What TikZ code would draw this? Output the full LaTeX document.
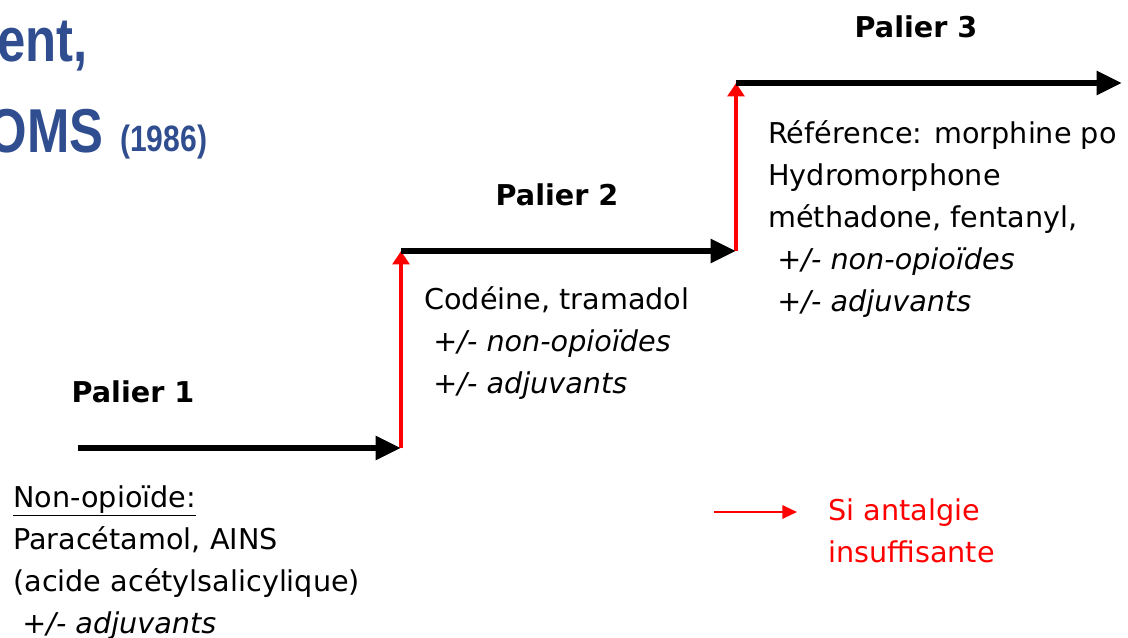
\documentclass[tikz,border=0pt]{standalone}
\usepackage{fontspec}
\usepackage{graphicx}
\setmainfont{DejaVu Sans}
\newfontfamily\titlefont{Liberation Sans}
\usetikzlibrary{arrows.meta}

\definecolor{omsblue}{RGB}{47,77,143}
\definecolor{stepred}{RGB}{255,0,0}

\tikzset{
  stepline/.style={line width=5pt, -{Triangle[length=19pt,width=17pt]}},
  uparrow/.style={stepred, line width=2.6pt, -{Triangle[length=10pt,width=12.5pt]}},
  legendarrow/.style={stepred, line width=1.5pt, -{Triangle[length=11pt,width=10pt]}},
  paliertext/.style={inner sep=0pt, anchor=base, font=\fontsize{21.5}{31.5}\selectfont\bfseries},
  drugtext/.style={inner sep=0pt, anchor=north west, align=left, font=\fontsize{21.5}{31.5}\selectfont},
  titletext/.style={inner sep=0pt, text=omsblue, font=\titlefont\bfseries}
}

\begin{document}
\begin{tikzpicture}[x=0.75pt, y=-0.75pt]
	\useasboundingbox (0,0) rectangle (1128,638);
	% title, cut by the left edge
	\node[titletext, anchor=base east] (title1) at (88,62) {\fontsize{46.5}{50}\selectfont\scalebox{0.82}[1]{ent,}};
	\node[titletext, anchor=base east] (title2) at (104,153) {\fontsize{46.5}{50}\selectfont\scalebox{0.82}[1]{OMS}};
	\node[titletext, anchor=base west] (year) at (120,152) {\fontsize{27.5}{30}\selectfont\scalebox{0.82}[1]{(1986)}};

	% the three steps
	\coordinate (start1) at (78,448);
	\coordinate (corner1) at (401,448);
	\coordinate (corner2) at (401,251);
	\coordinate (corner3) at (736,251);
	\coordinate (corner4) at (736,83);
	\coordinate (end3) at (1122,83);
	\draw[uparrow] (corner1) -- (corner2);
	\draw[uparrow] (corner3) -- (corner4);
	\draw[stepline] (start1) -- (corner1);
	\draw[stepline] (corner2) -- (corner3);
	\draw[stepline] (corner4) -- (end3);

	\node[paliertext] (palier1) at (133,402) {Palier 1};
	\node[paliertext] (palier2) at (557,205) {Palier 2};
	\node[paliertext] (palier3) at (916,38) {Palier 3};

	\node[drugtext] (drugs1) at (13,485) {\underline{Non-opioïde:}\\Paracétamol, AINS\\(acide acétylsalicylique)\\\ \textit{+/- adjuvants}};
	\node[drugtext] (drugs2) at (424,286) {Codéine, tramadol\\\ \textit{+/- non-opioïdes}\\\ \textit{+/- adjuvants}};
	\node[drugtext] (drugs3) at (768,120) {Référence: morphine po\\Hydromorphone\\méthadone, fentanyl,\\\ \textit{+/- non-opioïdes}\\\ \textit{+/- adjuvants}};

	% legend
	\coordinate (legstart) at (714,512);
	\coordinate (legend) at (797,512);
	\draw[legendarrow] (legstart) -- (legend);
	\node[drugtext, text=stepred] (legtext) at (828,498) {Si antalgie\\insuffisante};
\end{tikzpicture}
\end{document}
